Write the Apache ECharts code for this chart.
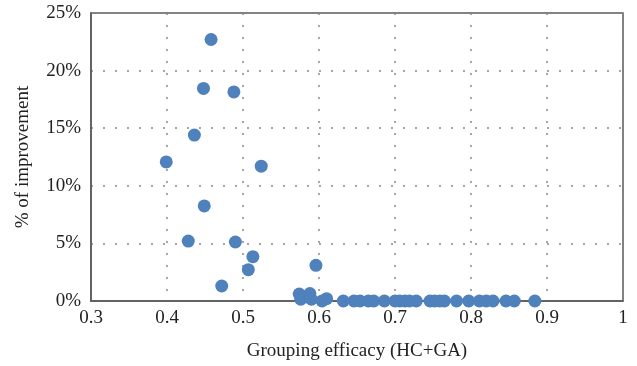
<!DOCTYPE html>
<html>
<head>
<meta charset="utf-8">
<script src="https://cdn.jsdelivr.net/npm/echarts@6/dist/echarts.min.js"></script>
<style>html,body{margin:0;padding:0;background:#fff}#c{width:637px;height:366px}</style>
</head>
<body>
<div id="c"></div>
<script>
const xTitle = 'Grouping efficacy (HC+GA)';
const yTitle = '% of improvement';
const xValues = [0.458,0.448,0.488,0.436,0.399,0.524,0.449,0.428,0.490,0.513,0.507,0.472,0.596,0.574,0.576,0.588,0.590,0.604,0.610,0.632,0.646,0.654,0.665,0.672,0.686,0.700,0.706,0.713,0.719,0.728,0.746,0.752,0.759,0.765,0.781,0.797,0.811,0.820,0.829,0.846,0.857,0.884];
const yValues = [22.7,18.45,18.15,14.4,12.07,11.7,8.25,5.2,5.12,3.85,2.72,1.3,3.1,0.6,0.15,0.65,0.15,0,0.2,0,0,0,0,0,0,0,0,0,0,0,0,0,0,0,0,0,0,0,0,0,0,0];

const font = '"Liberation Serif","DejaVu Serif",serif';
const chart = echarts.init(document.getElementById('c'));
chart.setOption({
  animation: false,
  grid: {left: 91, top: 13, right: 14, bottom: 64, show: true, borderColor: '#595959', borderWidth: 1.5},
  xAxis: {
    type: 'value', min: 0.3, max: 1, interval: 0.1,
    name: xTitle, nameLocation: 'middle', nameGap: 41,
    nameTextStyle: {fontFamily: font, fontSize: 19, color: '#222'},
    axisLine: {show: true, lineStyle: {color: '#595959', width: 1.5}},
    axisTick: {show: false},
    axisLabel: {fontFamily: font, fontSize: 19, color: '#222', margin: 8,
      formatter: v => (Math.abs(v-1) < 1e-9 ? '1' : v.toFixed(1))},
    splitLine: {show: true, lineStyle: {color: '#888', type: [2, 10], width: 1.5}}
  },
  yAxis: {
    type: 'value', min: 0, max: 25, interval: 5,
    name: yTitle, nameLocation: 'middle', nameGap: 58,
    nameTextStyle: {fontFamily: font, fontSize: 19, color: '#222'},
    axisLine: {show: true, lineStyle: {color: '#595959', width: 1.5}},
    axisTick: {show: false},
    axisLabel: {fontFamily: font, fontSize: 19, color: '#222', margin: 10, formatter: '{value}%'},
    splitLine: {show: true, lineStyle: {color: '#888', type: [2, 10], width: 1.5}}
  },
  series: [{
    type: 'scatter',
    symbolSize: 13,
    itemStyle: {color: '#4F81BD', opacity: 1},
    data: xValues.map((x, i) => [x, yValues[i]])
  }]
});
</script>
</body>
</html>
